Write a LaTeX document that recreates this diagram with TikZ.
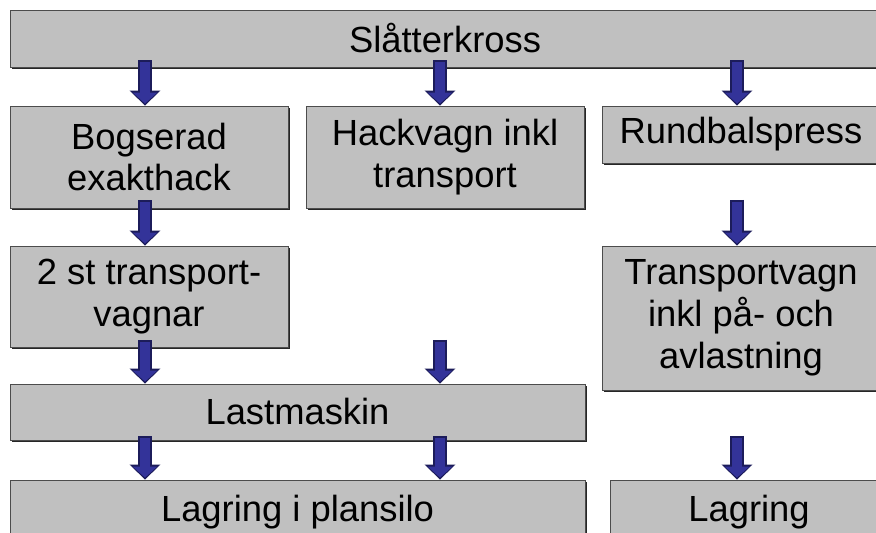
\documentclass[tikz,border=0pt]{standalone}
\usepackage{fontspec}
\setmainfont{Liberation Sans}
\usetikzlibrary{arrows.meta,shadows}
\definecolor{boxgray}{HTML}{C0C0C0}
\definecolor{flowblue}{HTML}{333399}
\definecolor{flowedge}{HTML}{1C1C5A}

\begin{document}
\begin{tikzpicture}[x=0.02cm, y=-0.02cm,
    box/.style={draw=black!70, line width=0.5pt, fill=boxgray, inner sep=0pt,
        align=center, font=\fontsize{20.7}{23.8}\selectfont,
        drop shadow={shadow xshift=0.035cm, shadow yshift=-0.035cm, fill=black!85, opacity=1}},
    flow/.style={line width=0.28cm, draw=flowedge,
        -{Triangle[length=0.3cm, width=0.6cm]}},
    flowin/.style={line width=0.2cm, draw=flowblue, shorten >=0.04cm, shorten <=0.04cm,
        -{Triangle[length=0.22cm, width=0.48cm]}}
    ]
        \clip (0,0) rectangle (876,533);
        \fill[white] (0,0) rectangle (876,533);

        \node[box, minimum width=17.4cm, minimum height=1.14cm] at (445, 38.5)(slatter){Slåtterkross};
        \node[box, minimum width=5.56cm, minimum height=2.04cm] at (149, 157)(bog){Bogserad\\exakthack};
        \node[box, minimum width=5.56cm, minimum height=2.04cm] at (445, 157)(hack){Hackvagn inkl\\transport};
        \node[box, minimum width=5.56cm, minimum height=1.14cm] at (741, 134.5)(rund){Rundbalspress};
        \node[box, minimum width=5.56cm, minimum height=2.02cm] at (149, 296.5)(tvagnar){2 st transport-\\vagnar};
        \node[box, minimum width=5.56cm, minimum height=2.88cm] at (741, 318)(tvagn){Transportvagn\\inkl på- och\\avlastning};
        \node[box, minimum width=11.5cm, minimum height=1.12cm] at (297.5, 412)(last){Lastmaskin};
        \node[box, minimum width=11.5cm, minimum height=1.28cm] at (297.5, 512)(silo){Lagring i plansilo};
        \node[box, minimum width=5.56cm, minimum height=1.28cm] at (749, 512)(lagring){Lagring};

        % free arrow starts
        \coordinate (a1) at (737, 200);
        \coordinate (a2) at (440, 340);
        \coordinate (a3) at (737, 436);

        \foreach \s/\e/\dx/\up in {slatter/bog/-4/7, slatter/hack/-5/7, slatter/rund/-4/7,
                bog/tvagnar/-4/8, tvagnar/last/-152.5/7, last/silo/-152.5/4, last/silo/142.5/4}{
            \draw[flow] ([shift={(\dx,-\up)}]\e.north |- \s.south) -- ([xshift=\dx*0.02cm]\e.north);
            \draw[flowin] ([shift={(\dx,-\up)}]\e.north |- \s.south) -- ([xshift=\dx*0.02cm]\e.north);
        }
        \foreach \s/\e in {a1/tvagn, a2/last, a3/lagring}{
            \draw[flow] (\s) -- (\s |- \e.north);
            \draw[flowin] (\s) -- (\s |- \e.north);
        }
    \end{tikzpicture}
\end{document}
